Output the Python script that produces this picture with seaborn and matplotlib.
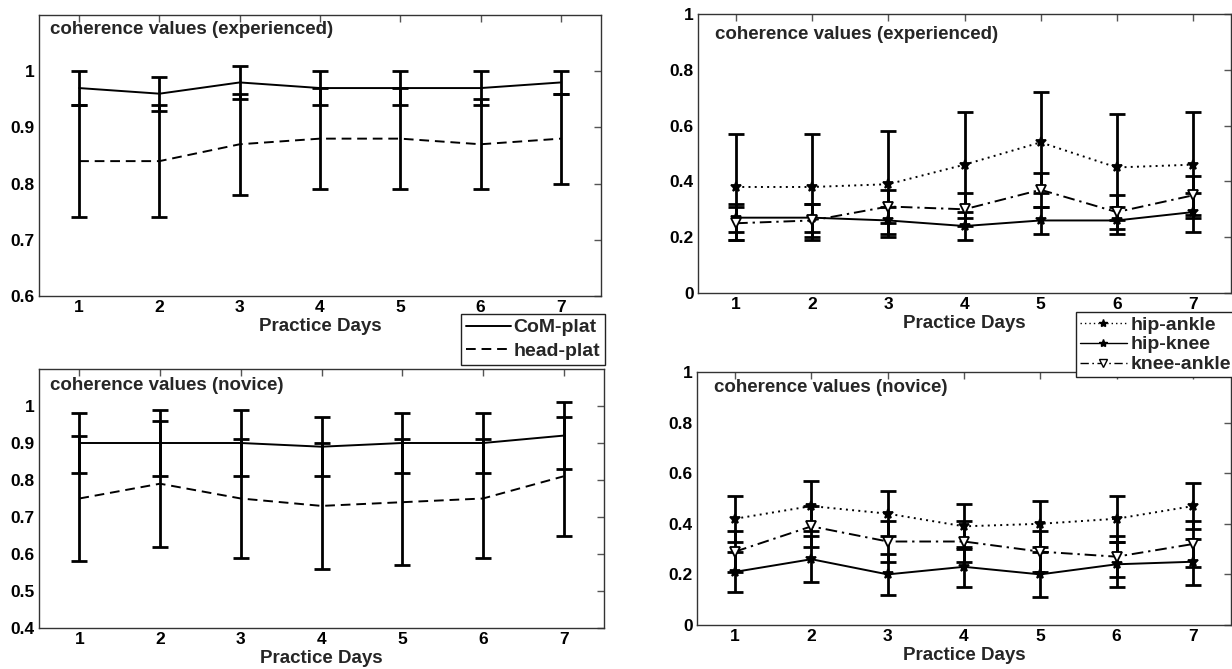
import numpy as np
import pandas as pd
import matplotlib
matplotlib.use("Agg")
import matplotlib.pyplot as plt
from matplotlib.lines import Line2D
from matplotlib.ticker import FuncFormatter
import seaborn as sns

# ---------------- data ----------------
days = [1, 2, 3, 4, 5, 6, 7]

exp_com_mean = [0.97, 0.96, 0.98, 0.97, 0.97, 0.97, 0.98]
exp_com_sd = [0.03, 0.03, 0.03, 0.03, 0.03, 0.03, 0.02]
exp_head_mean = [0.84, 0.84, 0.87, 0.88, 0.88, 0.87, 0.88]
exp_head_sd = [0.10, 0.10, 0.09, 0.09, 0.09, 0.08, 0.08]

nov_com_mean = [0.90, 0.90, 0.90, 0.89, 0.90, 0.90, 0.92]
nov_com_sd = [0.08, 0.09, 0.09, 0.08, 0.08, 0.08, 0.09]
nov_head_mean = [0.75, 0.79, 0.75, 0.73, 0.74, 0.75, 0.81]
nov_head_sd = [0.17, 0.17, 0.16, 0.17, 0.17, 0.16, 0.16]

exp_ha_mean = [0.38, 0.38, 0.39, 0.46, 0.54, 0.45, 0.46]
exp_ha_sd = [0.19, 0.19, 0.19, 0.19, 0.18, 0.19, 0.19]
exp_hk_mean = [0.27, 0.27, 0.26, 0.24, 0.26, 0.26, 0.29]
exp_hk_sd = [0.05, 0.05, 0.05, 0.05, 0.05, 0.05, 0.07]
exp_ka_mean = [0.25, 0.26, 0.31, 0.30, 0.37, 0.29, 0.35]
exp_ka_sd = [0.06, 0.06, 0.06, 0.06, 0.06, 0.06, 0.07]

nov_ha_mean = [0.42, 0.47, 0.44, 0.39, 0.40, 0.42, 0.47]
nov_ha_sd = [0.09, 0.10, 0.09, 0.09, 0.09, 0.09, 0.09]
nov_hk_mean = [0.21, 0.26, 0.20, 0.23, 0.20, 0.24, 0.25]
nov_hk_sd = [0.08, 0.09, 0.08, 0.08, 0.09, 0.09, 0.09]
nov_ka_mean = [0.29, 0.39, 0.33, 0.33, 0.29, 0.27, 0.32]
nov_ka_sd = [0.08, 0.08, 0.08, 0.08, 0.08, 0.08, 0.09]

title_exp = "coherence values (experienced)"
title_nov = "coherence values (novice)"
xlabel = "Practice Days"
left_series = ["CoM-plat", "head-plat"]
right_series = ["hip-ankle", "hip-knee", "knee-ankle"]

# ---------------- style ----------------
sns.set_theme(style="white")
plt.rcParams["font.family"] = ["Liberation Sans", "DejaVu Sans"]
plt.rcParams["font.weight"] = "bold"
plt.rcParams["axes.labelweight"] = "bold"
FS_TITLE = 13.5
FS_TICK = 12.5
FS_LEG = 14

fig = plt.figure(figsize=(12.32, 6.69), dpi=100)

W, H = 1232.0, 669.0
def rect(l, t, r, b):
    return [l / W, 1 - b / H, (r - l) / W, (b - t) / H]

ax_tl = fig.add_axes(rect(39, 15, 601, 296))
ax_bl = fig.add_axes(rect(39, 369, 604, 628))
ax_tr = fig.add_axes(rect(698, 14, 1231, 293))
ax_br = fig.add_axes(rect(697, 372, 1231, 625))

styles_left = {
    "CoM-plat": dict(linestyle="-", marker=None),
    "head-plat": dict(linestyle=(0, (5, 3)), marker=None),
}
styles_right = {
    "hip-ankle": dict(linestyle=(0, (1, 2.2)), marker="*", ms=7, mfc="black"),
    "hip-knee": dict(linestyle="-", marker="*", ms=7, mfc="black"),
    "knee-ankle": dict(linestyle=(0, (6, 2.5, 1.2, 2.5)), marker="v", ms=7, mfc="white"),
}


def draw_series(ax, name, mean, sd, st):
    df = pd.DataFrame({"day": days, "value": mean})
    kw = dict(color="black", linewidth=1.4, linestyle=st["linestyle"])
    if st.get("marker"):
        kw.update(marker=st["marker"], markersize=st["ms"],
                  markerfacecolor=st["mfc"], markeredgecolor="black",
                  markeredgewidth=1.3)
    sns.lineplot(data=df, x="day", y="value", ax=ax, legend=False, zorder=3, **kw)
    ax.errorbar(days, mean, yerr=sd, fmt="none", ecolor="black",
                elinewidth=2.0, capsize=6, capthick=2.0, zorder=2)


def style_axes(ax, ylim, yticks, title, tx, ty):
    ax.set_xlim(0.5, 7.5)
    ax.set_ylim(*ylim)
    ax.set_xticks(days)
    ax.set_yticks(yticks)
    ax.yaxis.set_major_formatter(FuncFormatter(lambda v, p: f"{v:g}"))
    ax.tick_params(axis="both", direction="in", length=5, width=1.0,
                   colors="#555555", labelcolor="black", labelsize=FS_TICK,
                   top=True, right=True, pad=3)
    for lab in ax.get_xticklabels() + ax.get_yticklabels():
        lab.set_fontweight("bold")
    ax.set_xlabel(xlabel, fontsize=FS_TITLE, fontweight="bold", labelpad=2)
    ax.set_ylabel("")
    for s in ax.spines.values():
        s.set_color("#333333")
        s.set_linewidth(1.0)
        s.set_visible(True)
    ax.text(tx, ty, title, transform=ax.transAxes, fontsize=FS_TITLE,
            fontweight="bold", ha="left", va="center")


# Left panels
draw_series(ax_tl, "CoM-plat", exp_com_mean, exp_com_sd, styles_left["CoM-plat"])
draw_series(ax_tl, "head-plat", exp_head_mean, exp_head_sd, styles_left["head-plat"])
style_axes(ax_tl, (0.6, 1.1), [0.6, 0.7, 0.8, 0.9, 1.0], title_exp, 0.02, 0.95)

draw_series(ax_bl, "CoM-plat", nov_com_mean, nov_com_sd, styles_left["CoM-plat"])
draw_series(ax_bl, "head-plat", nov_head_mean, nov_head_sd, styles_left["head-plat"])
style_axes(ax_bl, (0.4, 1.1), [0.4, 0.5, 0.6, 0.7, 0.8, 0.9, 1.0], title_nov, 0.02, 0.935)

# Right panels
for name, m, s in zip(right_series, [exp_ha_mean, exp_hk_mean, exp_ka_mean],
                      [exp_ha_sd, exp_hk_sd, exp_ka_sd]):
    draw_series(ax_tr, name, m, s, styles_right[name])
style_axes(ax_tr, (0, 1), [0, 0.2, 0.4, 0.6, 0.8, 1.0], title_exp, 0.032, 0.925)

for name, m, s in zip(right_series, [nov_ha_mean, nov_hk_mean, nov_ka_mean],
                      [nov_ha_sd, nov_hk_sd, nov_ka_sd]):
    draw_series(ax_br, name, m, s, styles_right[name])
style_axes(ax_br, (0, 1), [0, 0.2, 0.4, 0.6, 0.8, 1.0], title_nov, 0.032, 0.94)

# Legends
h_left = [Line2D([], [], color="black", lw=1.4, linestyle=styles_left[n]["linestyle"])
          for n in left_series]
leg1 = fig.legend(h_left, left_series, loc="upper left",
                  bbox_to_anchor=(461 / W, 1 - 314 / H), frameon=True,
                  fancybox=False, edgecolor="#222222", framealpha=1,
                  prop=dict(size=FS_LEG, weight="bold"), handlelength=2.3,
                  handletextpad=0.15, labelspacing=0.3, borderpad=0.25,
                  borderaxespad=0)
leg1.get_frame().set_linewidth(1.0)

h_right = []
for n in right_series:
    st = styles_right[n]
    h_right.append(Line2D([], [], color="black", lw=1.0, linestyle=st["linestyle"],
                          marker=st["marker"], markersize=st["ms"] - 1,
                          markerfacecolor=st["mfc"], markeredgecolor="black",
                          markeredgewidth=1.0))
leg2 = fig.legend(h_right, right_series, loc="upper left",
                  bbox_to_anchor=(1076 / W, 1 - 312 / H), frameon=True,
                  fancybox=False, edgecolor="#222222", framealpha=1,
                  prop=dict(size=FS_LEG, weight="bold"), handlelength=2.4,
                  handletextpad=0.2, labelspacing=0.12, borderpad=0.2,
                  borderaxespad=0)
leg2.get_frame().set_linewidth(1.0)

fig.savefig("out.png", dpi=100, facecolor="white")
